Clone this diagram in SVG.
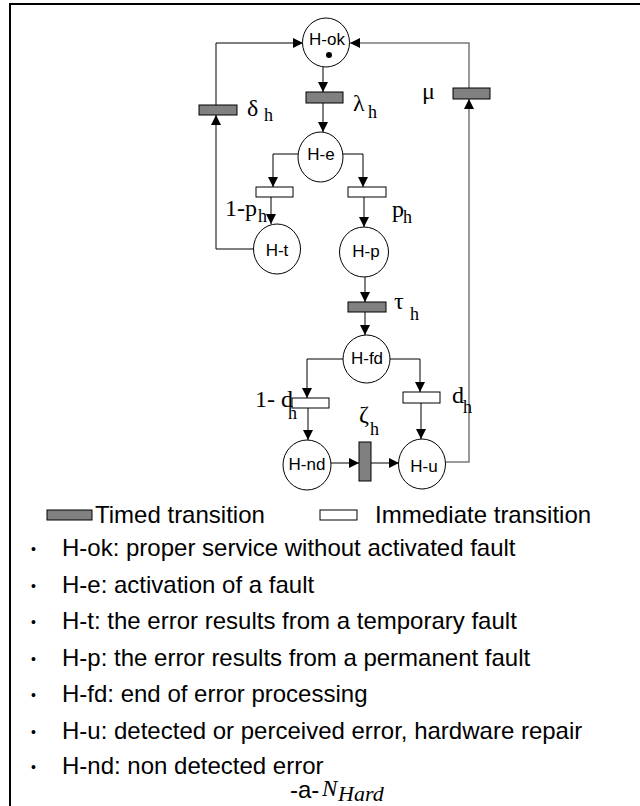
<svg xmlns="http://www.w3.org/2000/svg" width="640" height="806" viewBox="0 0 640 806">
<defs>
<marker id="ah" viewBox="0 0 10 10" refX="10" refY="5" markerWidth="10" markerHeight="10" markerUnits="userSpaceOnUse" orient="auto">
<path d="M0,0 L10,5 L0,10 z" fill="#000"/>
</marker>
<style>
.pl{fill:#fff;stroke:#000;stroke-width:1}
.tt{fill:#808080;stroke:#000;stroke-width:1}
.it{fill:#fff;stroke:#000;stroke-width:1}
.nl{font-family:"Liberation Sans",Arial,sans-serif;font-size:17px;text-anchor:middle}
.gl{font-family:"Liberation Serif","Times New Roman",serif;font-size:24px}
.sb{font-family:"Liberation Serif","Times New Roman",serif;font-size:18px}
.lg{font-family:"Liberation Sans",Arial,sans-serif;font-size:24px}
.cn{fill:none;stroke:#000;stroke-width:1}
.cg{fill:none;stroke:#7a7a7a;stroke-width:1.5}
</style>
</defs>
<rect width="640" height="806" fill="#fff"/>
<path d="M10,806 V4 H640" fill="none" stroke="#000" stroke-width="2"/>

<g id="connectors">
<path class="cn" d="M216,105 V43 H303" marker-end="url(#ah)"/>
<path class="cn" d="M254,249 H216 V115" marker-end="url(#ah)"/>
<path class="cg" d="M469,88 V43 H350" marker-end="url(#ah)"/>
<path class="cg" d="M446,462 H469 V99" marker-end="url(#ah)"/>
<path class="cn" d="M323,67 V92" marker-end="url(#ah)"/>
<path class="cn" d="M323,103 V132" marker-end="url(#ah)"/>
<path class="cn" d="M298,154 H273 V187" marker-end="url(#ah)"/>
<path class="cn" d="M343,154 H363 V187" marker-end="url(#ah)"/>
<path class="cn" d="M271,197 V224" marker-end="url(#ah)"/>
<path class="cn" d="M364,197 V227" marker-end="url(#ah)"/>
<path class="cn" d="M365,277 V302" marker-end="url(#ah)"/>
<path class="cn" d="M365,312 V335" marker-end="url(#ah)"/>
<path class="cn" d="M343,359 H307 V398" marker-end="url(#ah)"/>
<path class="cn" d="M390,359 H420 V392" marker-end="url(#ah)"/>
<path class="cn" d="M308,408 V440" marker-end="url(#ah)"/>
<path class="cn" d="M421,403 V439" marker-end="url(#ah)"/>
<path class="cn" d="M331,463 H359" marker-end="url(#ah)"/>
<path class="cn" d="M371,463 H399" marker-end="url(#ah)"/>
</g>

<g id="H-ok"><ellipse class="pl" cx="326" cy="42.5" rx="23.5" ry="24.5"/><text class="nl" x="327" y="45">H-ok</text><circle cx="329" cy="55" r="3"/></g>
<g id="H-e"><ellipse class="pl" cx="320.5" cy="157" rx="22.5" ry="25"/><text class="nl" x="321" y="160">H-e</text></g>
<g id="H-t"><ellipse class="pl" cx="277" cy="249" rx="23.5" ry="25"/><text class="nl" x="277" y="256">H-t</text></g>
<g id="H-p"><ellipse class="pl" cx="364" cy="252" rx="24.5" ry="25"/><text class="nl" x="366" y="257">H-p</text></g>
<g id="H-fd"><ellipse class="pl" cx="366.5" cy="359" rx="23.5" ry="24"/><text class="nl" x="367" y="364">H-fd</text></g>
<g id="H-nd"><ellipse class="pl" cx="307" cy="465" rx="24" ry="25"/><text class="nl" x="307" y="470">H-nd</text></g>
<g id="H-u"><ellipse class="pl" cx="422" cy="464" rx="23.5" ry="25"/><text class="nl" x="424" y="472">H-u</text></g>

<g id="t-delta"><rect class="tt" x="199" y="105" width="38" height="10"/><text class="gl" x="247" y="116">δ</text><text class="sb" x="264" y="121">h</text></g>
<g id="t-lambda"><rect class="tt" x="306" y="92" width="37" height="11"/><text class="gl" x="353" y="111">λ</text><text class="sb" x="368" y="118">h</text></g>
<g id="t-mu"><rect class="tt" x="453" y="88" width="37" height="11"/><text class="gl" x="422" y="99">μ</text></g>
<g id="t-1p"><rect class="it" x="256" y="187" width="37" height="10"/><text class="gl" x="225" y="216">1-p</text><text class="sb" x="258" y="222">h</text></g>
<g id="t-p"><rect class="it" x="348" y="187" width="38" height="10"/><text class="gl" x="392" y="217">p</text><text class="sb" x="403" y="223">h</text></g>
<g id="t-tau"><rect class="tt" x="348" y="302" width="38" height="10"/><text class="gl" x="394" y="309">τ</text><text class="sb" x="410" y="320">h</text></g>
<g id="t-1d"><rect class="it" x="292" y="398" width="37" height="10"/><text class="gl" x="255" y="407">1- d<tspan x="288" y="419" font-size="18">h</tspan></text></g>
<g id="t-d"><rect class="it" x="403" y="392" width="37" height="11"/><text class="gl" x="452" y="403">d</text><text class="sb" x="463" y="413">h</text></g>
<g id="t-zeta"><rect class="tt" x="359" y="442" width="12" height="39"/><text class="gl" x="359" y="422">ζ</text><text class="sb" x="370" y="435">h</text></g>

<g id="legend">
<rect class="tt" x="47" y="510" width="45" height="10"/><text class="lg" x="95" y="523">Timed transition</text>
<rect class="it" x="320" y="510" width="37" height="10"/><text class="lg" x="375" y="523">Immediate transition</text>
</g>
<g id="notes" class="lg">
<text x="31" y="554" font-size="14">•</text><text x="62" y="556">H-ok: proper service without activated fault</text>
<text x="31" y="591" font-size="14">•</text><text x="62" y="593">H-e: activation of a fault</text>
<text x="31" y="627" font-size="14">•</text><text x="62" y="629">H-t: the error results from a temporary fault</text>
<text x="31" y="664" font-size="14">•</text><text x="62" y="666">H-p: the error results from a permanent fault</text>
<text x="31" y="700" font-size="14">•</text><text x="62" y="702">H-fd: end of error processing</text>
<text x="31" y="737" font-size="14">•</text><text x="62" y="739">H-u: detected or perceived error, hardware repair</text>
<text x="31" y="772" font-size="14">•</text><text x="62" y="774">H-nd: non detected error</text>
</g>
<g id="caption"><text class="lg" x="290" y="798">-a-</text><text x="322" y="796" font-family="Liberation Serif,serif" font-style="italic" font-size="23">N</text><text x="338" y="801" font-family="Liberation Serif,serif" font-style="italic" font-size="22">Hard</text></g>
</svg>
